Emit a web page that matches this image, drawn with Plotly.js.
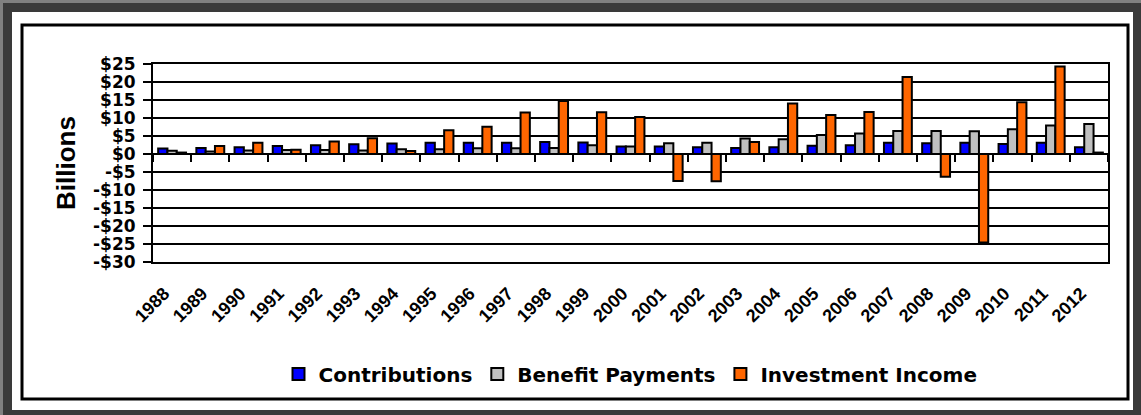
<!DOCTYPE html>
<html>
<head>
<meta charset="utf-8">
<script src="https://cdn.plot.ly/plotly-3.0.1.min.js"></script>
<style>
  html, body { margin: 0; padding: 0; }
  body { width: 1141px; height: 415px; overflow: hidden; background: #3a3a3a; position: relative; }
  #edge { position: absolute; left: 0; top: 0; width: 1141px; height: 415px; box-sizing: border-box;
          border-top: 3px solid #808080; border-left: 3px solid #808080; }
  #chart { position: absolute; left: 12px; top: 12px; width: 1121px; height: 398px; background: #fff; }
</style>
</head>
<body>
<div id="edge"></div>
<div id="chart"></div>
<script>
const years = ['1988','1989','1990','1991','1992','1993','1994','1995','1996','1997','1998','1999',
               '2000','2001','2002','2003','2004','2005','2006','2007','2008','2009','2010','2011','2012'];
const contributions = [1.5,1.7,1.9,2.2,2.4,2.7,2.9,3.1,3.1,3.1,3.3,3.2,2.1,2.1,1.9,1.7,1.9,2.3,2.4,3.1,3.0,3.1,2.8,3.1,1.9];
const benefitPayments = [0.9,0.7,1.0,1.1,1.1,1.0,1.3,1.3,1.6,1.6,1.7,2.4,2.1,3.0,3.1,4.3,4.1,5.3,5.7,6.4,6.4,6.3,6.9,7.9,8.3];
const investmentIncome = [0.4,2.2,3.1,1.2,3.5,4.4,0.8,6.6,7.6,11.5,14.7,11.6,10.3,-7.5,-7.6,3.3,14.0,10.8,11.7,21.4,-6.3,-24.6,14.4,24.3,0.4];
const seriesNames = ['Contributions','Benefit Payments','Investment Income'];
const yTickValues = [25,20,15,10,5,0,-5,-10,-15,-20,-25,-30];
const yTickLabels = ['$25','$20','$15','$10','$5','$0','-$5','-$10','-$15','-$20','-$25','-$30'];

const W = 1121, H = 398;
const M = {l: 141, r: 25, t: 52, b: 148};
const PW = W - M.l - M.r, PH = H - M.t - M.b;
const Y_MIN = -30, Y_MAX = 25;
// outer black frame in px relative to chart div
const fx0 = 10, fx1 = 1116, fy0 = 13, fy1 = 387;
const px = v => (v - M.l) / PW;
const py = v => (H - M.b - v) / PH;
const zeroFrac = (0 - Y_MIN) / (Y_MAX - Y_MIN);
const catRange = [-0.5, years.length - 0.5];

const lineStyle = {color: '#000', width: 2};
const traces = [
  {type: 'bar', name: seriesNames[0], x: years, y: contributions, marker: {color: '#0000FF', line: lineStyle}},
  {type: 'bar', name: seriesNames[1], x: years, y: benefitPayments, marker: {color: '#C0C0C0', line: lineStyle}},
  {type: 'bar', name: seriesNames[2], x: years, y: investmentIncome, marker: {color: '#FF6600', line: lineStyle}},
  // invisible helper so the zero-line tick axis (x2) is created
  {type: 'scatter', mode: 'markers', x: [0], y: [0], xaxis: 'x2', yaxis: 'y',
   marker: {opacity: 0, size: 1}, showlegend: false, hoverinfo: 'skip'}
];

const tickFont = {family: 'DejaVu Sans', size: 17, weight: 'bold', color: '#000'};
const layout = {
  width: W, height: H,
  margin: M,
  paper_bgcolor: '#fff', plot_bgcolor: '#fff',
  barmode: 'group', bargap: 0.27, bargroupgap: 0,
  showlegend: true,
  legend: {orientation: 'h', x: 0.5, xanchor: 'center', y: py(362), yanchor: 'middle',
           font: {family: 'DejaVu Sans', size: 20, weight: 'bold', color: '#000'},
           bgcolor: 'rgba(0,0,0,0)', traceorder: 'normal'},
  xaxis: {type: 'category', range: catRange, showline: true, mirror: true, linecolor: '#000', linewidth: 2,
          ticks: '', showgrid: false, zeroline: false, tickangle: -45,
          tickfont: {family: 'Liberation Sans', size: 18, weight: 'bold', color: '#000'},
          ticklabelstandoff: 12, ticklabelshift: -8, fixedrange: true},
  xaxis2: {overlaying: 'x', anchor: 'free', position: zeroFrac, side: 'bottom', type: 'linear', range: catRange,
           tickmode: 'linear', tick0: 0.5, dtick: 1, ticks: 'outside', ticklen: 7, tickwidth: 2, tickcolor: '#000',
           showticklabels: false, showgrid: false, showline: false, zeroline: false, fixedrange: true},
  yaxis: {range: [Y_MIN, Y_MAX], tickvals: yTickValues, ticktext: yTickLabels, showline: true, mirror: true,
          linecolor: '#000', linewidth: 2, ticks: 'outside', ticklen: 8, tickwidth: 2, tickcolor: '#000',
          showgrid: true, gridcolor: '#000', gridwidth: 2, zeroline: true, zerolinecolor: '#000', zerolinewidth: 2,
          tickfont: tickFont, ticklabelstandoff: 4,
          title: {text: 'Billions', standoff: 10, font: {family: 'Liberation Sans', size: 26, weight: 'bold', color: '#000'}},
          fixedrange: true},
  shapes: [
    {type: 'rect', xref: 'paper', yref: 'paper', x0: px(fx0), x1: px(fx1), y0: py(fy1), y1: py(fy0),
     line: {color: '#000', width: 3}, fillcolor: 'rgba(0,0,0,0)', layer: 'below'}
  ]
};

Plotly.newPlot('chart', traces, layout, {staticPlot: true, displayModeBar: false});
</script>
</body>
</html>
